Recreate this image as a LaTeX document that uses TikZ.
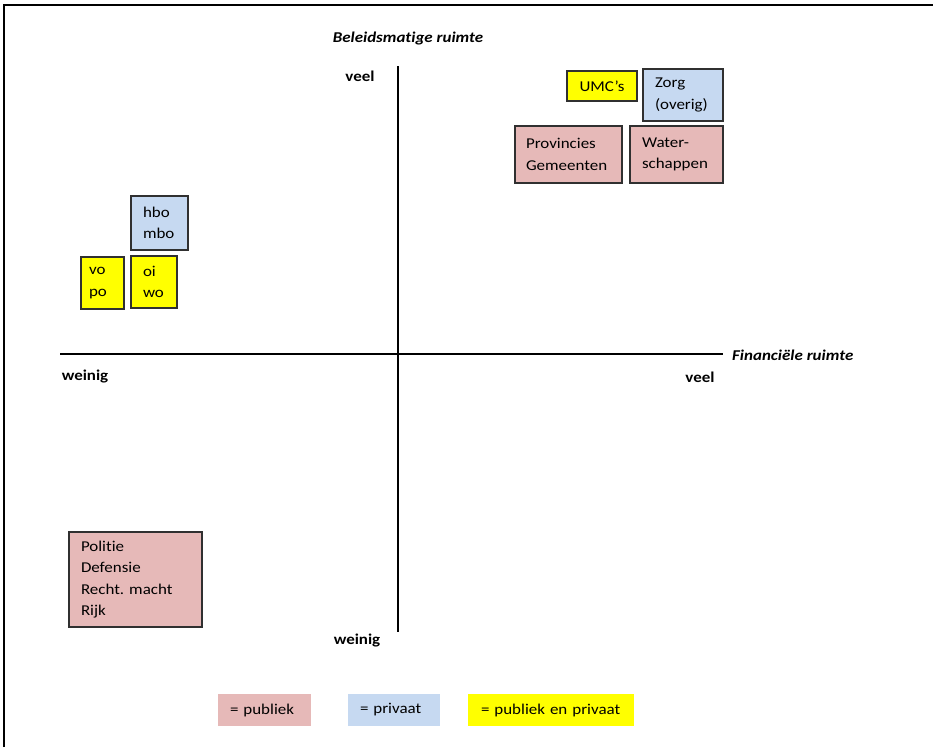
\documentclass[tikz,border=0pt]{standalone}
\usepackage{fontspec}
\setmainfont{Carlito}[FakeStretch=1.13, Ligatures=NoCommon]
\frenchspacing
\definecolor{pub}{HTML}{E6B9B8}
\definecolor{priv}{HTML}{C6D9F1}
\definecolor{both}{HTML}{FFFF00}
\definecolor{edge}{HTML}{303030}
\tikzset{
  box/.style={draw=edge, line width=1.4pt, inner sep=0pt, align=left,
    font=\fontsize{15}{21.5}\selectfont},
  legendbox/.style={inner sep=0pt, align=left, font=\fontsize{15}{21.5}\selectfont},
  axislbl/.style={font=\fontsize{15}{18}\selectfont\bfseries, inner sep=0pt},
  axistitle/.style={font=\fontsize{15}{18}\selectfont\bfseries\itshape, inner sep=0pt},
  axisline/.style={line width=1.4pt, draw=black},
}
\begin{document}
\begin{tikzpicture}[x=1pt,y=-1pt]
\useasboundingbox (0,0) rectangle (933,747);
% frame
\draw[line width=2.6pt] (4,747) -- (4,5) -- (933,5);
% axes
\coordinate (vt) at (398,66);
\coordinate (vb) at (398,632);
\coordinate (hl) at (60,354);
\coordinate (hr) at (723,354);
\draw[axisline] (vt) -- (vb);
\draw[axisline] (hl) -- (hr);
% axis labels
\node[axistitle] (ytitle) at (408,38) {Beleidsmatige ruimte};
\node[axistitle, anchor=west] (xtitle) at (732,355) {Financiële ruimte};
\node[axislbl] (ytop) at (360,76) {veel};
\node[axislbl] (ybot) at (357,640) {weinig};
\node[axislbl] (xleft) at (85,377) {weinig};
\node[axislbl] (xright) at (700,377) {veel};
% boxes
\node[box, fill=both, minimum width=70pt, minimum height=30pt, align=center] (umc) at (602,86) {UMC’s};
\node[box, fill=priv, minimum width=80pt, minimum height=52pt, text width=56pt] (zorg) at (683,95) {Zorg\\(overig)};
\node[box, fill=pub, minimum width=107pt, minimum height=57pt, text width=85pt] (prov) at (568.5,154.5) {Provincies\\Gemeenten};
\node[box, fill=pub, minimum width=93pt, minimum height=57pt, text width=69pt] (water) at (676.5,154.5) {Water-\\schappen};
\node[box, fill=priv, minimum width=57pt, minimum height=54pt, text width=33pt] (hbo) at (159.5,223) {hbo\\mbo};
\node[box, fill=both, minimum width=43pt, minimum height=52pt, text width=27pt] (vopo) at (102.5,283) {vo\\po};
\node[box, fill=both, minimum width=46pt, minimum height=52pt, text width=22pt] (oiwo) at (154,282) {oi\\wo};
\node[box, fill=pub, minimum width=133pt, minimum height=95pt, text width=109pt] (rijk) at (135.5,579.5) {Politie\\Defensie\\Recht. macht\\Rijk};
% legend
\node[legendbox, fill=pub, minimum width=93pt, minimum height=32pt, text width=69pt] (lpub) at (264.5,710) {\mbox{= publiek}};
\node[legendbox, fill=priv, minimum width=92pt, minimum height=32pt, text width=68pt] (lpriv) at (394,710) {\mbox{= privaat}};
\node[legendbox, fill=both, minimum width=166pt, minimum height=32pt, text width=140pt] (lboth) at (551,710) {\mbox{= publiek en privaat}};
\end{tikzpicture}
\end{document}
